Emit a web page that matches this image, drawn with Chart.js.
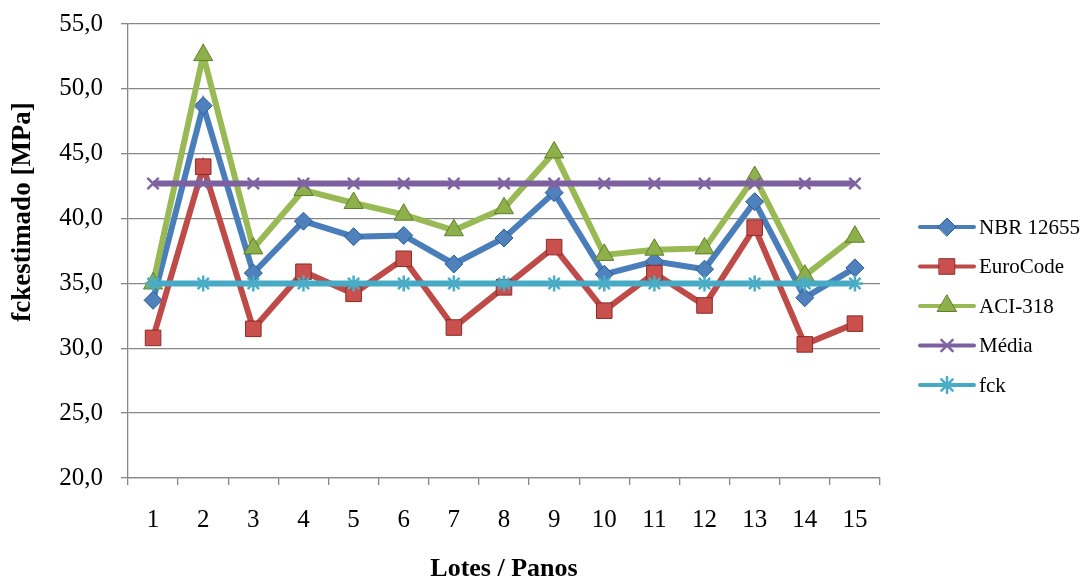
<!DOCTYPE html>
<html>
<head>
<meta charset="utf-8">
<script src="https://cdn.jsdelivr.net/npm/chart.js@4/dist/chart.umd.min.js"></script>
<style>
  html, body { margin: 0; padding: 0; background: #ffffff; }
  #wrap { width: 1081px; height: 579px; }
</style>
</head>
<body>
<div id="wrap"><canvas id="c" width="1081" height="579"></canvas></div>
<script>
// Lots / panels on the horizontal axis
const lotes = ['1','2','3','4','5','6','7','8','9','10','11','12','13','14','15'];

// Estimated fck per method [MPa]
const nbr12655 = [33.7, 48.7, 35.8, 39.8, 38.6, 38.7, 36.5, 38.5, 42.0, 35.7, 36.7, 36.1, 41.3, 33.9, 36.2];
const euroCode = [30.8, 44.0, 31.5, 35.9, 34.2, 36.9, 31.6, 34.7, 37.8, 32.9, 35.8, 33.3, 39.3, 30.3, 31.9];
const aci318   = [35.0, 52.6, 37.7, 42.2, 41.2, 40.3, 39.1, 40.8, 45.1, 37.2, 37.6, 37.7, 43.2, 35.6, 38.6];
const media    = [42.7, 42.7, 42.7, 42.7, 42.7, 42.7, 42.7, 42.7, 42.7, 42.7, 42.7, 42.7, 42.7, 42.7, 42.7];
const fck      = [35.0, 35.0, 35.0, 35.0, 35.0, 35.0, 35.0, 35.0, 35.0, 35.0, 35.0, 35.0, 35.0, 35.0, 35.0];

// Y axis range and step
const yMin = 20, yMax = 55, yStep = 5;

const FONT = "'Liberation Serif', 'Times New Roman', serif";
const GRID = '#878787';

const series = [
  { label: 'NBR 12655', data: nbr12655, line: '#4A7EBB', fill: '#4F81BD', edge: '#2B5B93', style: 'rectRot', r: 9,  order: 5 },
  { label: 'EuroCode',  data: euroCode, line: '#BE4B48', fill: '#C9504C', edge: '#8A2C2A', style: 'rect',    r: 11, order: 4 },
  { label: 'ACI-318',   data: aci318,   line: '#98B954', fill: '#8DB04A', edge: '#5F7E2A', style: 'triangle',r: 11, order: 3 },
  { label: 'Média',     data: media,    line: '#7D60A0', fill: '#8064A2', edge: '#8064A2', style: 'crossRot',r: 8,  order: 2 },
  { label: 'fck',       data: fck,      line: '#46AAC5', fill: '#4BACC6', edge: '#4BACC6', style: 'star',    r: 8,  order: 1 }
];

const datasets = series.map(s => ({
  label: s.label,
  data: s.data,
  order: s.order,
  borderColor: s.line,
  borderWidth: 6,
  tension: 0,
  pointStyle: s.style,
  pointRadius: s.r,
  pointHoverRadius: s.r,
  pointBackgroundColor: s.fill,
  pointBorderColor: s.edge,
  pointBorderWidth: (s.style === 'star' || s.style === 'crossRot') ? 2.5 : 1
}));

// Legend on the right: line segment with the marker in its middle
const sideLegend = {
  id: 'sideLegend',
  afterDraw(chart) {
    const ctx = chart.ctx;
    const x0 = 920, x1 = 974, xm = 947, xt = 979;
    const y0 = 227, dy = 39.5;
    ctx.save();
    series.forEach((s, i) => {
      const y = y0 + i * dy;
      ctx.beginPath();
      ctx.strokeStyle = s.line;
      ctx.lineWidth = 4;
      ctx.lineCap = 'round';
      ctx.moveTo(x0, y);
      ctx.lineTo(x1, y);
      ctx.stroke();
      ctx.fillStyle = s.fill;
      ctx.strokeStyle = s.edge;
      ctx.lineWidth = (s.style === 'star' || s.style === 'crossRot') ? 2.5 : 1;
      Chart.helpers.drawPoint(ctx, { pointStyle: s.style, radius: s.r, rotation: 0, borderWidth: ctx.lineWidth }, xm, y);
      ctx.fillStyle = '#000000';
      ctx.font = '21px ' + FONT;
      ctx.textAlign = 'left';
      ctx.textBaseline = 'middle';
      ctx.fillText(s.label, xt, y + 1);
    });
    // vertical axis title
    ctx.translate(23, 212);
    ctx.rotate(-Math.PI / 2);
    ctx.font = 'bold 27px ' + FONT;
    ctx.textAlign = 'center';
    ctx.textBaseline = 'middle';
    ctx.fillStyle = '#000000';
    ctx.fillText('fckestimado [MPa]', 0, 0);
    ctx.restore();
  }
};

new Chart(document.getElementById('c'), {
  type: 'line',
  data: { labels: lotes, datasets },
  plugins: [sideLegend],
  options: {
    responsive: false,
    animation: false,
    devicePixelRatio: 1,
    layout: { padding: { top: 24, right: 201, bottom: 0, left: 0 } },
    plugins: {
      legend: { display: false },
      tooltip: { enabled: false }
    },
    scales: {
      x: {
        type: 'category',
        offset: true,
        afterFit(scale) { scale.height = 101; scale.paddingLeft = 0; scale.paddingRight = 0; },
        grid: { offset: true, drawOnChartArea: false, drawTicks: true, tickLength: 7, color: GRID, lineWidth: 1.3 },
        border: { display: true, color: GRID, width: 1.3 },
        ticks: { color: '#000000', font: { family: FONT, size: 25 }, padding: 20, maxRotation: 0 },
        title: { display: true, text: 'Lotes / Panos', color: '#000000', font: { family: FONT, size: 26, weight: 'bold' }, padding: { top: 0, bottom: -6 } }
      },
      y: {
        min: yMin,
        max: yMax,
        afterFit(scale) { scale.width = 128; scale.paddingTop = 0; scale.paddingBottom = 0; },
        grid: { drawOnChartArea: true, drawTicks: true, tickLength: 7, color: GRID, lineWidth: 1.3 },
        border: { display: true, color: GRID, width: 1.3 },
        ticks: {
          stepSize: yStep,
          color: '#000000',
          font: { family: FONT, size: 25 },
          padding: 18,
          callback: v => v.toFixed(1).replace('.', ',')
        }
      }
    }
  }
});
</script>
</body>
</html>
